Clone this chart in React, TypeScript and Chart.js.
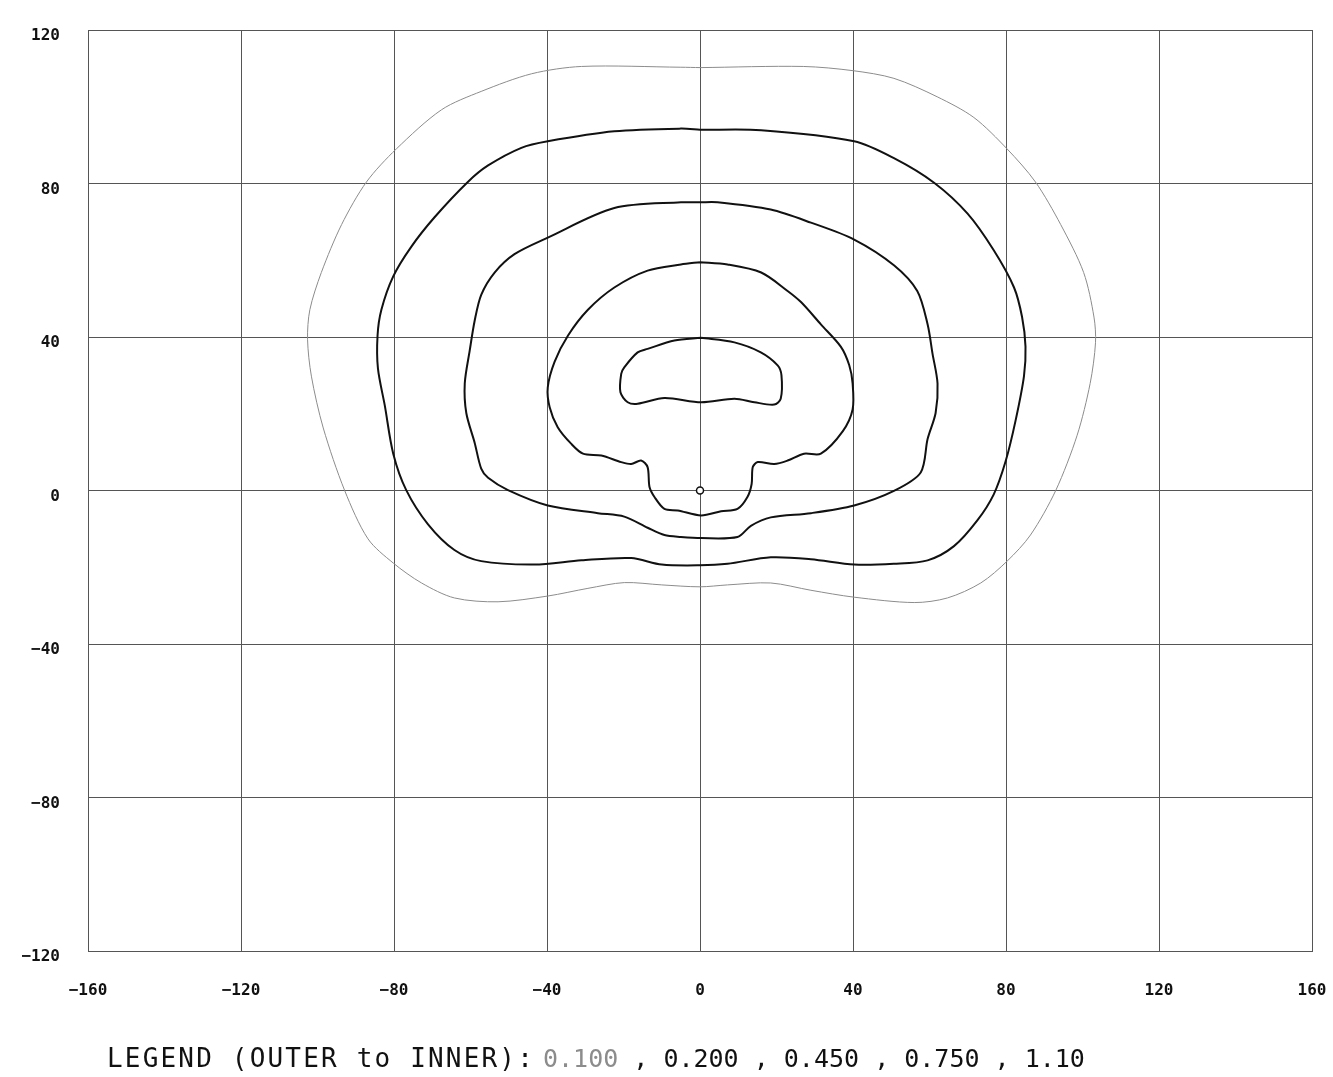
import React, { useEffect, useRef } from 'react';
import { Chart, registerables } from 'chart.js';

Chart.register(...registerables);

// Contour levels (outer to inner)
const levelLabels = ['0.100', '0.200', '0.450', '0.750', '1.10'];
const levelColors = ['#8c8c8c', '#111111', '#111111', '#111111', '#111111'];
const legendPrefix = 'LEGEND (OUTER to INNER):';

const xTickValues = [-160, -120, -80, -40, 0, 40, 80, 120, 160];
const yTickValues = [-120, -80, -40, 0, 40, 80, 120];

const contour010: [number, number][] = [
  [0, 110.2], [-5, 110.3], [-31, 110.5], [-44, 108.6], [-57.2, 104], [-67.6, 99.2],
  [-79.4, 89], [-87.2, 80.4], [-93.7, 69.3], [-99, 56.8], [-102, 47.1], [-102.6, 39.4],
  [-101.6, 29.8], [-98.5, 16.3], [-92.9, 0], [-86.8, -12.6], [-80.2, -18.9], [-72.8, -24.1],
  [-64.2, -28], [-52.8, -29], [-39.8, -27.5], [-29.3, -25.5], [-19.8, -24], [-10, -24.6],
  [0, -25.1], [7.2, -24.6], [18.5, -24.1], [29, -26], [40.3, -27.8], [56, -29.2],
  [64.7, -28], [73.4, -24.1], [80.3, -18.4], [86.4, -11.6], [93, 0], [98.6, 14.4],
  [102, 27.9], [103.4, 38.5], [103, 45.2], [100.3, 56.8], [94.3, 69.3], [87.7, 80.4],
  [80.3, 89], [71.6, 97.2], [62, 102.6], [50.7, 107.4], [40, 109.4], [27, 110.5], [0, 110.2],
];

const contour020: [number, number][] = [
  [0, 94], [-5, 94.3], [-22.4, 93.6], [-39.8, 91], [-46.7, 89.3], [-55.4, 84.7],
  [-60.7, 80.4], [-69.4, 71.2], [-75.5, 63.5], [-80.2, 55.8], [-83.3, 47.1], [-84.3, 40.4],
  [-84.2, 31.8], [-82.4, 22.1], [-80.2, 9.6], [-76.8, 0.1], [-71.1, -8.8], [-64.2, -15.5],
  [-57.2, -18.4], [-43.3, -19.3], [-31, -18.2], [-18, -17.6], [-10, -19.3], [0, -19.5],
  [7.2, -19.1], [18.5, -17.4], [29, -17.9], [40.3, -19.3], [50.7, -19.1], [59.5, -18.2],
  [66.4, -14.5], [72.5, -7.8], [76.8, -1], [79.9, 7.6], [82.5, 18.2], [84.7, 29.8],
  [85.1, 37.5], [84.2, 45.2], [82.1, 52.9], [76.8, 62.6], [69.9, 72.2], [61.2, 80.2],
  [50.7, 86.6], [40.3, 91], [16, 93.9], [0, 94],
];

const contour045: [number, number][] = [
  [0, 75.1], [-5, 75.1], [-22.4, 73.6], [-39.8, 65.9], [-48.5, 61.6], [-53.7, 56.8],
  [-57.2, 51], [-58.9, 44.3], [-60.2, 36.5], [-61.5, 27.9], [-61.1, 20.2], [-58.9, 12.4],
  [-57.2, 5.7], [-55.4, 3.3], [-50.2, 0.1], [-39.8, -3.9], [-26.7, -5.9], [-19.8, -6.8],
  [-13.7, -9.7], [-9.3, -11.6], [-5, -12.1], [0.3, -12.4], [9.8, -12.1], [13.3, -9.2],
  [18.5, -7], [29, -5.9], [40.3, -3.9], [50.7, -0.1], [57.7, 4.7], [59.5, 13.4],
  [61.6, 20.2], [62.1, 27.9], [60.8, 35.6], [59.5, 43.3], [56.8, 52], [50.7, 58.7],
  [40.3, 65.4], [29, 69.8], [18.5, 73.2], [4.6, 75.1], [0, 75.1],
];

const contour075: [number, number][] = [
  [0, 59.5], [-5, 58.9], [-13.7, 57.3], [-22.4, 52.9], [-29.3, 47.1], [-34.5, 40.4],
  [-38, 33.6], [-39.8, 26.9], [-39.3, 21.7], [-37.2, 16.5], [-33.7, 12.2], [-30.6, 9.6],
  [-25.8, 9.1], [-20.6, 7.4], [-18, 6.9], [-15.4, 7.8], [-13.7, 6.1], [-13.2, 0.9],
  [-11.9, -1.7], [-9.3, -4.8], [-5.8, -5.2], [0.3, -6.5], [5.5, -5.4], [9.8, -4.8],
  [12.4, -1.7], [13.5, 1.7], [13.8, 6.1], [15.1, 7.4], [19.4, 6.9], [22.9, 7.8],
  [27.2, 9.6], [31.6, 9.6], [37.3, 15.4], [39.9, 21.1], [39.9, 27.9], [39, 32.7],
  [36.8, 37.5], [31.6, 43.3], [26.4, 49.1], [22.9, 52], [16, 56.8], [7.2, 58.9], [0, 59.5],
];

const contour110: [number, number][] = [
  [0.3, 39.8], [-6.7, 39.1], [-13.7, 36.9], [-16.3, 36], [-19.8, 32.1], [-20.6, 30.4],
  [-20.8, 25.6], [-18.9, 23], [-16.3, 22.6], [-9.3, 24.1], [0.3, 23], [9, 23.9],
  [14.2, 23], [19.4, 22.4], [21.1, 23.9], [21.3, 30], [20.3, 32.6], [15.9, 36],
  [9, 38.6], [0.3, 39.8],
];

const contours = [contour010, contour020, contour045, contour075, contour110];
const sourcePoint: [number, number] = [0, 0];

const fmt = (v: number) => (v < 0 ? '\u2212' + Math.abs(v) : String(v));

export default function App() {
  const ref = useRef<HTMLCanvasElement>(null);

  useEffect(() => {
    document.body.style.margin = '0';
    const canvas = ref.current;
    if (!canvas) return;

    const legendPlugin = {
      id: 'bottomLegendText',
      afterDraw(chart: any) {
        const ctx = chart.ctx as any;
        const baseline = 1067;
        ctx.save();
        ctx.textAlign = 'left';
        ctx.textBaseline = 'alphabetic';
        // prefix, spread to its width with letter spacing
        ctx.font = '26px "DejaVu Sans Mono"';
        ctx.fillStyle = '#111';
        const pw = ctx.measureText(legendPrefix).width;
        const target = 535 - 107;
        if ('letterSpacing' in ctx) {
          ctx.letterSpacing = ((target - pw) / legendPrefix.length).toFixed(2) + 'px';
          ctx.fillText(legendPrefix, 107, baseline);
          ctx.letterSpacing = '0px';
        } else {
          ctx.save();
          ctx.translate(107, baseline);
          ctx.scale(target / pw, 1);
          ctx.fillText(legendPrefix, 0, 0);
          ctx.restore();
        }
        // level values
        ctx.font = '25px "DejaVu Sans Mono"';
        let x = 543;
        levelLabels.forEach((lab, i) => {
          ctx.fillStyle = i === 0 ? '#8c8c8c' : '#111';
          ctx.fillText(lab, x, baseline);
          x += ctx.measureText(lab).width;
          if (i < levelLabels.length - 1) {
            ctx.fillStyle = '#111';
            ctx.fillText(' , ', x, baseline);
            x += ctx.measureText(' , ').width;
          }
        });
        ctx.restore();
      },
    };

    const tickFont = { family: '"DejaVu Sans Mono", monospace', size: 16, weight: 'bold' as const };

    const datasets: any[] = contours.map((c, i) => ({
      label: levelLabels[i],
      data: c.map(([x, y]) => ({ x, y })),
      showLine: true,
      borderColor: levelColors[i],
      borderWidth: i === 0 ? 1 : 2,
      pointRadius: 0,
      tension: 0.3,
      fill: false,
    }));
    datasets.push({
      label: 'source',
      data: [{ x: sourcePoint[0], y: sourcePoint[1] }],
      showLine: false,
      pointRadius: 3.5,
      pointBorderWidth: 1.5,
      pointBorderColor: '#111',
      pointBackgroundColor: '#fff',
    });

    const chart = new Chart(canvas, {
      type: 'scatter',
      data: { datasets },
      options: {
        animation: false,
        responsive: false,
        layout: { padding: { top: 30, right: 21, left: 0, bottom: 0 } },
        plugins: { legend: { display: false }, tooltip: { enabled: false } },
        scales: {
          x: {
            type: 'linear',
            min: xTickValues[0],
            max: xTickValues[xTickValues.length - 1],
            afterBuildTicks: (s: any) => { s.ticks = xTickValues.map((v) => ({ value: v })); },
            afterFit: (s: any) => { s.height = 126; s.paddingLeft = 0; s.paddingRight = 0; },
            ticks: {
              padding: 30,
              color: '#111',
              font: tickFont,
              maxRotation: 0,
              autoSkip: false,
              callback: (v: any) => fmt(Number(v)),
            },
            grid: { color: '#555', lineWidth: 1, drawTicks: false },
            border: { color: '#555', width: 1 },
          },
          y: {
            type: 'linear',
            min: yTickValues[0],
            max: yTickValues[yTickValues.length - 1],
            afterBuildTicks: (s: any) => { s.ticks = yTickValues.map((v) => ({ value: v })); },
            afterFit: (s: any) => { s.width = 88; s.paddingTop = 0; s.paddingBottom = 0; },
            ticks: {
              padding: 28,
              labelOffset: 6,
              color: '#111',
              font: tickFont,
              autoSkip: false,
              callback: (v: any) => fmt(Number(v)),
            },
            grid: { color: '#555', lineWidth: 1, drawTicks: false },
            border: { color: '#555', width: 1 },
          },
        },
      },
      plugins: [legendPlugin],
    });

    return () => chart.destroy();
  }, []);

  return (
    <div style={{ width: 1333, height: 1077, background: '#fff' }}>
      <canvas ref={ref} width={1333} height={1077} style={{ display: 'block' }} />
    </div>
  );
}
